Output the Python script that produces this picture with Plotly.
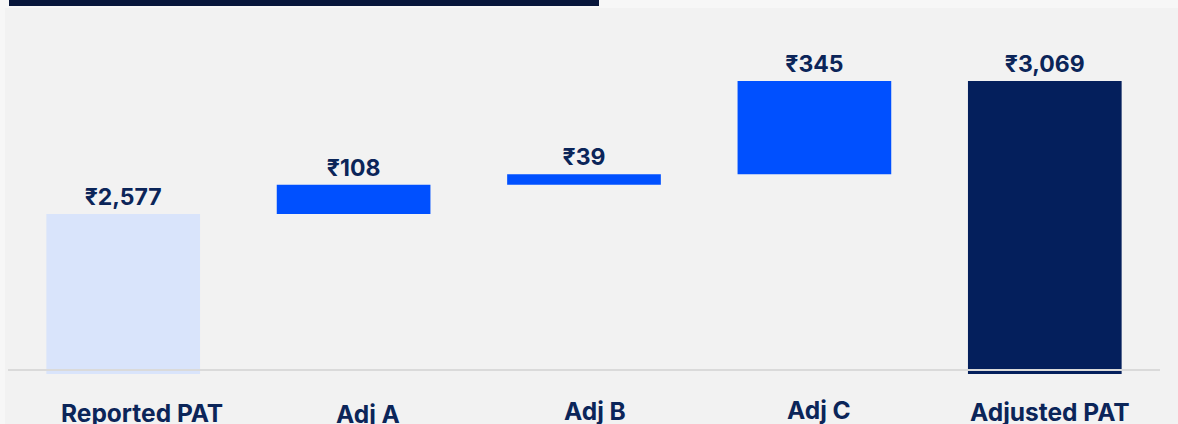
import plotly.graph_objects as go

# ---- data ----
categories = ["Reported PAT", "Adj A", "Adj B", "Adj C", "Adjusted PAT"]
values = [2577, 108, 39, 345, 3069]
measures = ["absolute", "relative", "relative", "relative", "total"]
value_labels = ["₹2,577", "₹108", "₹39", "₹345", "₹3,069"]
bar_colors = ["#d9e4fb", "#0050ff", "#0050ff", "#0050ff", "#041f5c"]
baseline_value = 2000
y_range = [1985, 3339]

# running base for waterfall-style bars
bases = []
running = 0
for v, m in zip(values, measures):
    if m == "relative":
        bases.append(running)
        running += v
    else:
        bases.append(0)
        running = v

W, H = 1178, 424
ML, MR, MT, MB = 8, 18, 8, 50
PW, PH = W - ML - MR, H - MT - MB

def px(x):
    return (x - ML) / PW

def py(y):
    return (H - MB - y) / PH

navy_text = "#0b2559"
font_family = "Inter, 'Open Sans', Arial, sans-serif"

fig = go.Figure()
fig.add_trace(go.Bar(
    x=categories,
    y=values,
    base=bases,
    marker=dict(color=bar_colors, line=dict(width=0)),
    text=value_labels,
    textposition="outside",
    textfont=dict(family=font_family, size=23, color=navy_text, weight=700),
    cliponaxis=False,
    width=0.667,
    hoverinfo="skip",
))

shapes = [
    # panel background
    dict(type="rect", xref="paper", yref="paper", x0=px(5), x1=px(W + 5),
         y0=py(H + 10), y1=py(8), fillcolor="#f2f2f2", line=dict(width=0), layer="below"),
    # dark top bar
    dict(type="rect", xref="paper", yref="paper", x0=px(9), x1=px(599),
         y0=py(6), y1=py(-2), fillcolor="#08163b", line=dict(width=0), layer="below"),
    # baseline
    dict(type="line", xref="paper", yref="y", x0=0, x1=1,
         y0=baseline_value, y1=baseline_value, line=dict(color="#dadada", width=2), layer="above"),
]

# category labels (slightly offset as in the reference layout)
label_xshift = [19, 14, 11, 5, 5]
label_yshift = [-39, -39.5, -37, -36, -38]
annotations = [
    dict(x=c, y=0, xref="x", yref="paper", text=c, showarrow=False,
         xanchor="center", yanchor="middle", xshift=dx, yshift=dy,
         font=dict(family=font_family, size=24.5, color=navy_text, weight=700))
    for c, dx, dy in zip(categories, label_xshift, label_yshift)
]

fig.update_layout(
    width=W, height=H,
    autosize=False,
    margin=dict(l=ML, r=MR, t=MT, b=MB, autoexpand=False),
    paper_bgcolor="#f7f7f7",
    plot_bgcolor="rgba(0,0,0,0)",
    showlegend=False,
    shapes=shapes,
    annotations=annotations,
    bargap=0.333,
    xaxis=dict(
        showgrid=False, zeroline=False, showline=False, ticks="",
        showticklabels=False, automargin=False,
    ),
    yaxis=dict(range=y_range, visible=False, showgrid=False, zeroline=False, automargin=False),
)

fig.write_html(
    "out.html",
    config={"displayModeBar": False},
    post_script="document.body.style.margin='0';document.body.style.overflow='hidden';",
)
